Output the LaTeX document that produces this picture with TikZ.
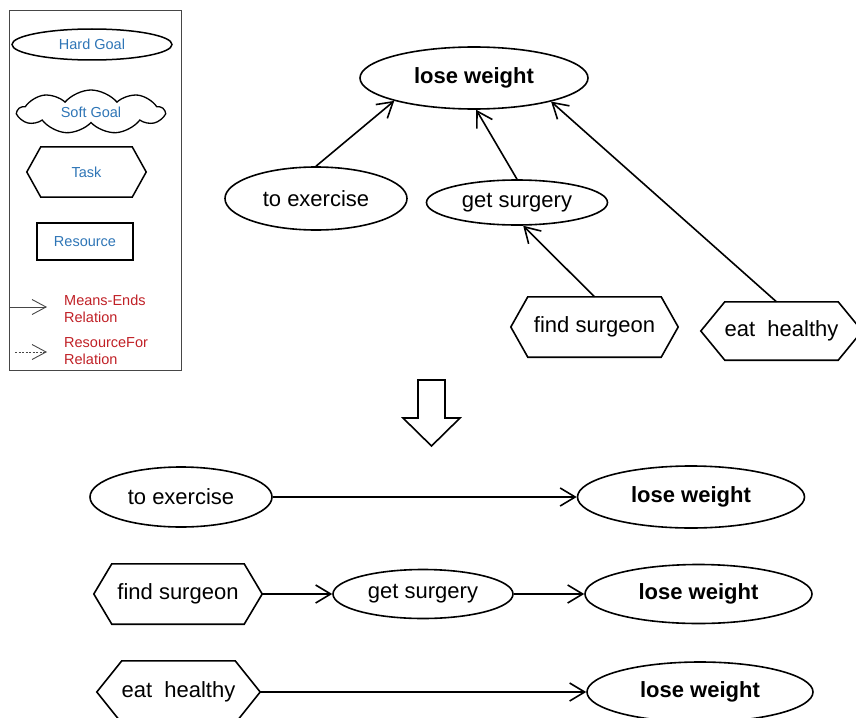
\documentclass[tikz,border=0pt]{standalone}
\usepackage{fontspec}
\setmainfont{Liberation Sans}
\usetikzlibrary{shapes.geometric,shapes.symbols,arrows.meta}

\definecolor{legendblue}{RGB}{46,117,182}
\definecolor{legendred}{RGB}{192,32,38}
\definecolor{framegray}{RGB}{70,70,70}

\newcommand\bigtext{\fontsize{22}{26}\selectfont}
\newcommand\keytext{\fontsize{14.5}{17.5}\selectfont}

% hexagonal outline of a task drawn on a plain rectangle node
\newcommand\hexoutline[3][1.6pt]{%
  \draw[line width=#1, line join=miter]
    (#2.west) -- ([xshift=#3]#2.north west) -- ([xshift=-#3]#2.north east)
    -- (#2.east) -- ([xshift=-#3]#2.south east) -- ([xshift=#3]#2.south west)
    -- cycle;}

\tikzset{
  goal/.style={ellipse, draw, line width=1.6pt, inner sep=0pt, font=\bigtext},
  maingoal/.style={goal, font=\bigtext\bfseries},
  taskbox/.style={rectangle, inner sep=0pt, font=\bigtext},
  meansend/.style={line width=1.6pt,
    -{Straight Barb[length=15pt 0,width=18pt 0]}},
  keyshape/.style={draw, inner sep=0pt, text=legendblue, font=\keytext},
  keylabel/.style={anchor=west, align=left, inner sep=0pt,
    text=legendred, font=\keytext},
  keyarrow/.style={line width=0.9pt, draw=framegray,
    -{Straight Barb[length=14pt 0,width=15pt 0]}},
}

\begin{document}
\begin{tikzpicture}[x=1pt, y=-1pt]
\useasboundingbox (0,0) rectangle (856,717);

% ---------- legend ----------
\draw[line width=0.9pt, draw=framegray] (9,10) rectangle (181,370);
\node[keyshape, ellipse, line width=1.5pt, minimum width=160, minimum height=31]
  (kh) at (92,44.5) {Hard Goal};
\node[keyshape, cloud, cloud puffs=9, cloud puff arc=100, aspect=3.3,
  line width=1.3pt, minimum width=146, minimum height=44]
  (ks) at (91,112) {Soft Goal};
\node[keyshape, draw=none, minimum width=119, minimum height=50]
  (kt) at (86.5,172) {Task};
\hexoutline[1.5pt]{kt}{14}
\node[keyshape, rectangle, line width=2pt, minimum width=96, minimum height=37]
  (kr) at (85,241.5) {Resource};

\coordinate (kma) at (9,307);
\coordinate (kmb) at (47,307);
\draw[keyarrow] (kma) -- (kmb);
\node[keylabel] (kml) at (64,309) {Means-Ends\\Relation};

\coordinate (kra) at (15,352);
\coordinate (krb) at (47,352);
\draw[keyarrow, dash pattern=on 2pt off 1.5pt] (kra) -- (krb);
\node[keylabel] (krl) at (64,351) {ResourceFor\\Relation};

% ---------- goal tree ----------
\node[maingoal, minimum width=228, minimum height=62] (lw) at (474,78) {lose weight};
\node[goal, minimum width=182, minimum height=63] (te) at (316,198.5) {to exercise};
\node[goal, minimum width=181, minimum height=45] (gs) at (517,202.5) {get surgery};
\node[taskbox, minimum width=167, minimum height=60] (fs) at (594.5,327) {find surgeon};
\hexoutline{fs}{17}
\node[taskbox, minimum width=161, minimum height=58] (eh) at (781.5,331) {eat\ \ healthy};
\hexoutline{eh}{24}

\draw[meansend] (te.north) -- (lw.196);
\draw[meansend] (gs.north) -- (lw.274);
\draw[meansend] (fs.north) -- (gs.285);
\draw[meansend] ([xshift=-5]eh.north) -- (lw.343);

% ---------- transformation arrow ----------
\draw[line width=1.6pt, line join=miter]
  (418,380) -- (445,380) -- (445,418) -- (460,418) -- (431.5,446)
  -- (403,418) -- (418,418) -- cycle;

% ---------- flattened chains ----------
\node[goal, minimum width=182, minimum height=60] (te2) at (181,497) {to exercise};
\node[maingoal, minimum width=227, minimum height=62] (lw1) at (691,497) {lose weight};
\draw[meansend] (te2) -- (lw1);

\node[taskbox, minimum width=168, minimum height=60] (fs2) at (178,594) {find surgeon};
\hexoutline{fs2}{18}
\node[goal, minimum width=180, minimum height=49] (gs2) at (423,594) {get surgery};
\node[maingoal, minimum width=227, minimum height=59] (lw2) at (698.5,594) {lose weight};
\draw[meansend] (fs2) -- (gs2);
\draw[meansend] (gs2) -- (lw2);

\node[taskbox, minimum width=163, minimum height=62] (eh2) at (178.5,692) {eat\ \ healthy};
\hexoutline{eh2}{25}
\node[maingoal, minimum width=226, minimum height=60] (lw3) at (700,692) {lose weight};
\draw[meansend] (eh2) -- (lw3);
\end{tikzpicture}
\end{document}
